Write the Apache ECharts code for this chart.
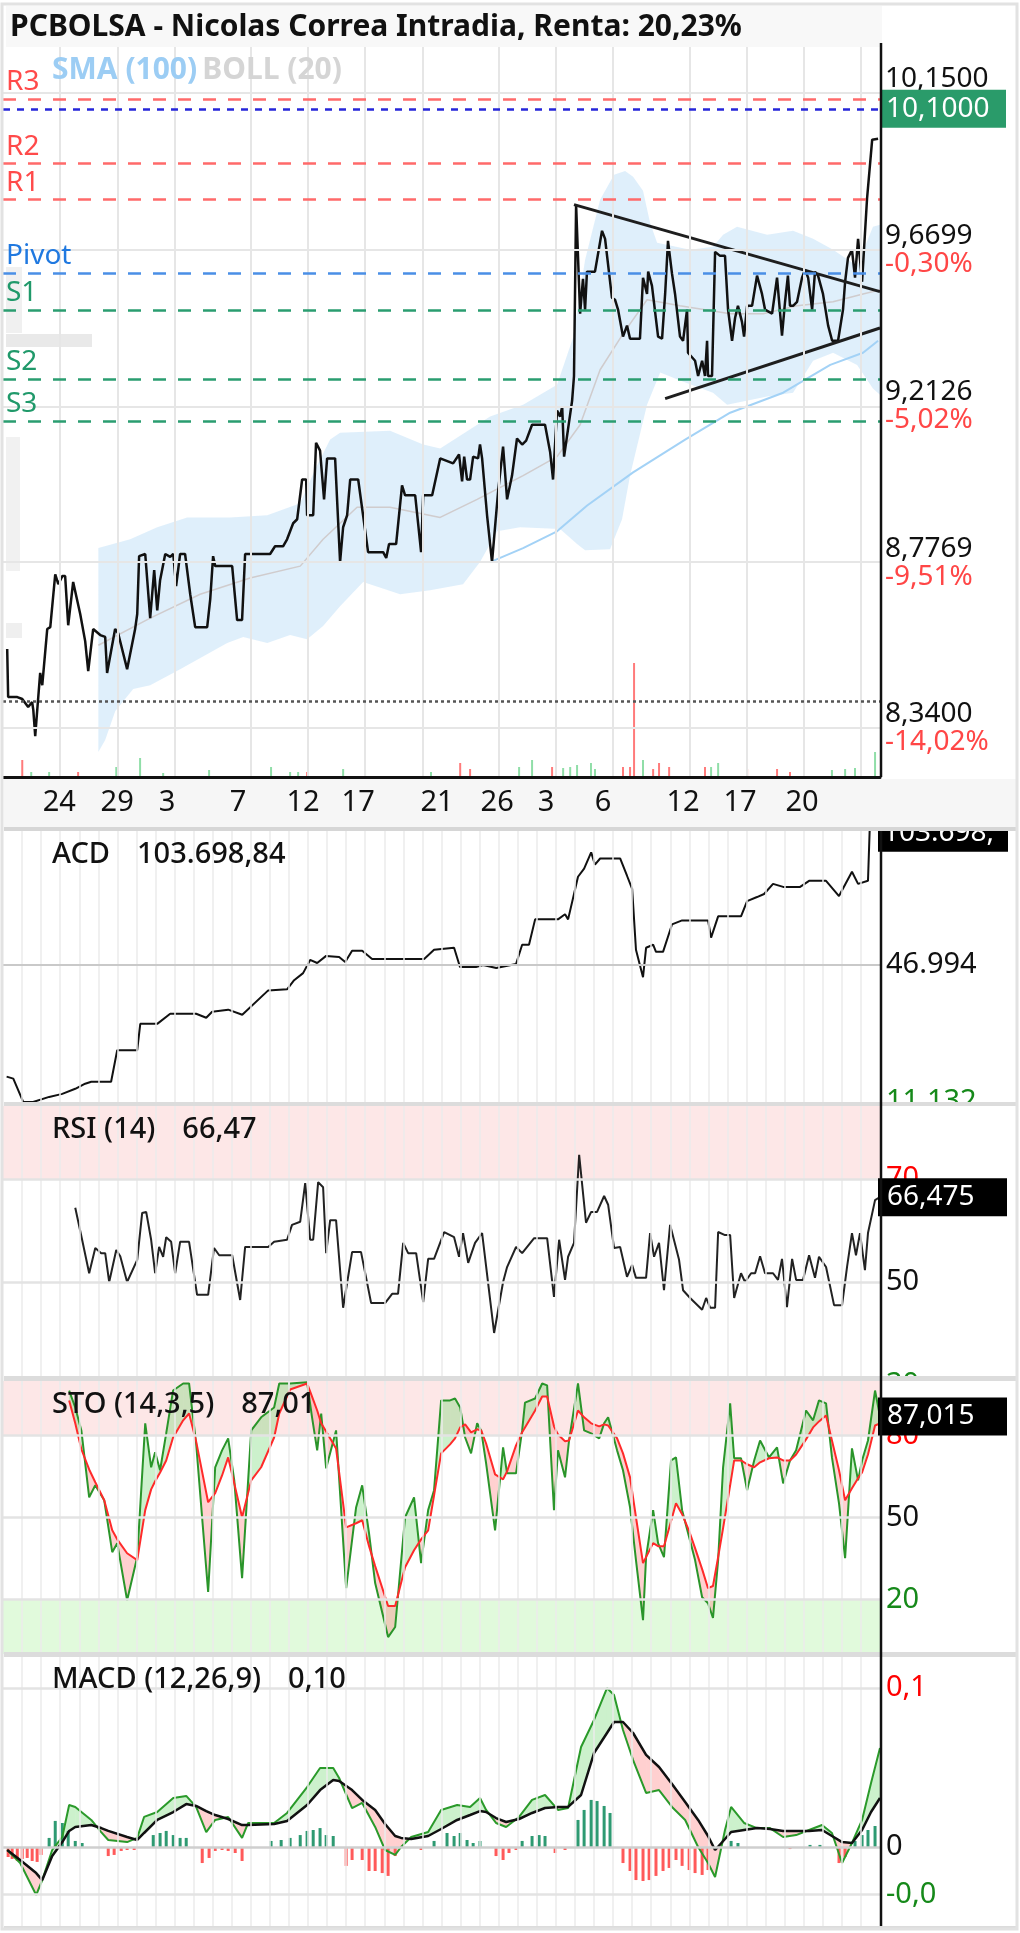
<!DOCTYPE html>
<html>
<head>
<meta charset="utf-8">
<title>PCBOLSA - Nicolas Correa Intradia</title>
<script src="https://cdn.jsdelivr.net/npm/echarts@6/dist/echarts.min.js"></script>
<style>
html, body { margin: 0; padding: 0; background: #fff; }
#chart { width: 1020px; height: 1933px; }
</style>
</head>
<body>
<div id="chart"></div>
<script>
const FONT = '"Noto Sans", "DejaVu Sans", sans-serif';

// ---- precio (x = sesiones, y = euros) ----
const priceLine = [[-0.78,8.546],[-0.73,8.420],[-0.25,8.420],[0.01,8.415],[0.32,8.394],[0.53,8.407],[0.59,8.386],[0.69,8.319],[0.80,8.389],[0.95,8.483],[1.06,8.451],[1.32,8.599],[1.48,8.604],[1.74,8.746],[1.90,8.719],[2.11,8.741],[2.26,8.741],[2.42,8.609],[2.68,8.725],[3.05,8.639],[3.31,8.567],[3.47,8.488],[3.73,8.599],[4.10,8.583],[4.36,8.578],[4.46,8.483],[4.88,8.599],[5.04,8.588],[5.51,8.493],[5.93,8.599],[6.04,8.639],[6.14,8.795],[6.46,8.801],[6.72,8.628],[6.93,8.757],[7.09,8.649],[7.24,8.730],[7.51,8.801],[7.77,8.793],[7.93,8.801],[8.08,8.714],[8.29,8.801],[8.55,8.801],[8.82,8.692],[9.08,8.604],[9.71,8.604],[9.87,8.679],[10.02,8.795],[10.13,8.768],[11.02,8.768],[11.28,8.623],[11.54,8.623],[11.70,8.801],[13.01,8.801],[13.27,8.822],[13.69,8.822],[13.90,8.841],[14.06,8.863],[14.22,8.885],[14.43,8.896],[14.69,9.006],[14.90,9.006],[14.95,8.907],[15.27,8.907],[15.42,9.109],[15.63,9.087],[15.84,8.951],[16.00,9.065],[16.42,9.065],[16.68,8.779],[16.84,8.874],[17.05,8.907],[17.21,9.006],[17.63,9.006],[18.15,8.806],[18.94,8.806],[19.10,8.790],[19.25,8.828],[19.62,8.828],[19.93,8.990],[20.09,8.962],[20.62,8.962],[20.93,8.806],[21.04,8.962],[21.51,8.962],[21.93,9.065],[22.61,9.051],[22.92,9.076],[23.08,9.001],[23.19,9.070],[23.34,9.006],[23.50,9.006],[23.66,9.070],[23.92,9.065],[24.02,9.104],[24.13,9.065],[24.39,8.907],[24.65,8.779],[24.97,8.973],[25.23,9.098],[25.44,8.951],[25.70,9.017],[25.96,9.121],[26.23,9.104],[26.44,9.115],[26.75,9.160],[27.43,9.160],[27.70,9.082],[27.85,9.006],[28.06,9.200],[28.22,9.183],[28.33,9.211],[28.43,9.070],[28.85,9.228],[28.95,9.299],[29.06,9.805],[29.16,9.805],[29.27,9.480],[29.42,9.583],[29.53,9.492],[29.63,9.604],[30.05,9.604],[30.42,9.726],[30.58,9.702],[30.94,9.527],[31.10,9.521],[31.26,9.492],[31.52,9.413],[31.73,9.445],[31.89,9.407],[32.41,9.407],[32.57,9.586],[32.78,9.538],[32.84,9.604],[33.04,9.562],[33.36,9.413],[33.57,9.407],[33.73,9.538],[33.88,9.696],[34.09,9.598],[34.25,9.538],[34.51,9.413],[34.67,9.401],[34.88,9.492],[34.93,9.366],[35.30,9.343],[35.46,9.299],[35.67,9.343],[35.82,9.299],[35.93,9.401],[35.98,9.299],[36.19,9.299],[36.35,9.663],[36.61,9.651],[36.87,9.651],[37.03,9.492],[37.24,9.401],[37.40,9.468],[37.55,9.503],[37.76,9.456],[37.87,9.413],[38.03,9.503],[38.29,9.503],[38.55,9.592],[38.81,9.538],[38.97,9.492],[39.34,9.480],[39.60,9.586],[39.86,9.416],[40.02,9.515],[40.17,9.592],[40.28,9.503],[40.44,9.503],[40.65,9.515],[40.91,9.586],[41.07,9.610],[41.23,9.586],[41.44,9.492],[41.59,9.604],[41.75,9.592],[42.01,9.538],[42.28,9.445],[42.49,9.401],[42.80,9.401],[43.06,9.492],[43.17,9.574],[43.32,9.645],[43.53,9.669],[43.69,9.586],[43.85,9.702],[44.06,9.574],[44.32,9.823],[44.59,10.004],[44.90,10.007]];

const bollUpper = [[4.00,8.817],[5.67,8.841],[7.09,8.874],[8.66,8.901],[10.91,8.901],[12.86,8.907],[14.59,8.940],[15.37,9.034],[16.16,9.118],[16.68,9.137],[19.30,9.143],[21.04,9.104],[21.93,9.093],[24.55,9.183],[26.28,9.217],[28.06,9.274],[28.90,9.410],[29.53,9.639],[30.32,9.820],[31.05,9.896],[31.63,9.908],[32.05,9.890],[32.57,9.847],[32.94,9.750],[33.31,9.690],[35.04,9.669],[36.24,9.678],[36.77,9.714],[37.50,9.738],[39.08,9.714],[40.44,9.726],[41.49,9.702],[42.54,9.669],[43.80,9.621],[44.63,9.738],[45.00,9.744]];
const bollLower = [[4.00,8.278],[4.36,8.309],[4.89,8.384],[5.83,8.441],[6.72,8.451],[8.29,8.493],[10.76,8.562],[11.60,8.578],[12.86,8.562],[14.06,8.583],[14.95,8.572],[15.79,8.607],[16.68,8.660],[17.89,8.725],[19.83,8.692],[21.40,8.703],[23.13,8.719],[24.02,8.779],[24.92,8.863],[26.12,8.874],[28.22,8.869],[29.11,8.828],[29.53,8.811],[30.84,8.814],[31.47,8.896],[31.89,9.017],[32.78,9.217],[33.47,9.309],[34.51,9.286],[36.24,9.251],[36.98,9.217],[39.08,9.240],[40.44,9.251],[41.49,9.343],[42.54,9.366],[43.80,9.331],[44.63,9.263],[45.00,9.245]];
const bollMid = [[4.00,8.556],[6.72,8.628],[9.34,8.692],[11.96,8.736],[14.59,8.768],[15.79,8.841],[17.57,8.929],[19.30,8.929],[21.93,8.901],[23.87,8.951],[26.28,9.017],[28.06,9.070],[29.27,9.160],[30.32,9.317],[31.52,9.421],[32.78,9.521],[34.51,9.503],[37.14,9.480],[38.87,9.480],[40.65,9.503],[42.54,9.515],[44.11,9.538],[45.00,9.550]];
const sma100 = [[24.55,8.779],[26.28,8.817],[28.06,8.863],[29.64,8.934],[32.05,9.026],[34.78,9.118],[37.14,9.194],[39.92,9.251],[42.39,9.331],[44.11,9.366],[44.90,9.401]];
const triUpper = [[28.95,9.805],[45.00,9.545]];
const triLower = [[33.73,9.234],[45.00,9.438]];

const pivotNames = ['R3','R2','R1','Pivot','S1','S2','S3'];
const pivotValues = [10.131, 9.928, 9.820, 9.604, 9.492, 9.291, 9.171];
const lastPrice = 10.10;
const refLevel = 8.407;
const priceTicks = [8.34, 8.7769, 9.2126, 9.6699, 10.15];
const priceTickText = ['8,3400','8,7769','9,2126','9,6699','10,1500'];
const priceTickPct = ['-14,02%','-9,51%','-5,02%','-0,30%',''];

const volUp = [[0.48,500],[1.42,500],[4.94,1000],[6.19,1900],[7.40,400],[9.81,700],[13.06,1000],[14.06,500],[14.48,500],[16.84,800],[17.99,700],[21.45,500],[26.07,1000],[26.75,1700],[28.38,900],[28.75,1000],[29.11,1200],[29.84,1400],[30.05,800],[32.57,1700],[36.14,1000],[36.51,1400],[42.48,700],[43.17,800],[43.69,900],[44.74,2500]];
const volDown = [[0.01,1700],[2.94,500],[14.95,500],[22.98,1400],[23.50,800],[27.80,1000],[31.52,1000],[31.89,1000],[32.10,11400],[33.10,800],[33.41,1400],[33.94,1000],[35.82,1000],[38.03,800],[39.60,800],[40.28,500]];

const dateTicks = [1.95, 4.99, 7.61, 11.33, 14.74, 17.63, 21.77, 24.92, 27.48, 30.47, 34.67, 37.66, 40.91];
const dateText = ['24','29','3','7','12','17','21','26','3','6','12','17','20'];
const weekLines = [2, 5, 8, 12, 15, 18, 21, 25, 28, 31, 35, 38, 41, 44];

// ---- ACD ----
const acdLine = [[-0.81,17778],[-0.46,17247],[0.06,11140],[0.58,11140],[1.42,12466],[2.11,13263],[2.79,14591],[3.31,15919],[3.63,16450],[4.67,16450],[4.99,24684],[6.04,24684],[6.20,31589],[7.09,31589],[7.77,34245],[9.13,34245],[9.66,33183],[9.97,34776],[10.81,35308],[11.55,33980],[12.91,40354],[13.90,40620],[14.27,43010],[14.74,44869],[15.11,48322],[15.48,47525],[15.95,49384],[16.63,49119],[16.95,47791],[17.31,50712],[17.84,50712],[18.36,48588],[21.09,48588],[21.61,50978],[22.66,51509],[22.97,46463],[23.81,46463],[24.18,46994],[24.87,46197],[25.91,47260],[26.23,52306],[26.59,52306],[26.91,58946],[28.11,58946],[28.48,60274],[28.64,58946],[29.16,70101],[29.48,72226],[29.85,76476],[30.05,73288],[30.32,74882],[31.37,74882],[31.73,70367],[32.00,66914],[32.20,50978],[32.57,43807],[32.73,51509],[33.10,52306],[33.25,50447],[33.62,50447],[34.09,57618],[34.62,58680],[35.98,58680],[36.14,54165],[36.51,59743],[37.71,59743],[38.03,63727],[38.55,64789],[38.92,65586],[39.39,68242],[39.92,67445],[40.81,67445],[41.28,69039],[42.17,69039],[42.85,65055],[43.53,71429],[43.85,68242],[44.37,69039],[44.60,103699],[45.00,103699]];
const acdLast = 103698.84;
const acdTicks = [11132, 46994];

// ---- RSI (14) ----
const rsiLine = [[2.79,64.4],[3.15,58.2],[3.52,51.7],[3.84,56.6],[4.15,55.6],[4.36,55.6],[4.57,50.0],[4.94,56.2],[5.15,55.0],[5.51,50.0],[6.04,54.3],[6.30,63.4],[6.51,63.6],[6.77,58.2],[6.98,51.7],[7.19,56.8],[7.40,54.9],[7.56,58.7],[7.82,57.8],[8.03,51.7],[8.29,57.8],[8.76,57.8],[9.18,47.5],[9.76,47.5],[10.07,56.6],[10.34,55.2],[11.02,55.2],[11.44,46.5],[11.70,56.8],[12.91,56.8],[13.22,57.8],[13.90,58.2],[14.16,61.1],[14.59,61.7],[14.85,69.2],[15.11,58.2],[15.27,58.2],[15.53,69.4],[15.79,68.4],[15.95,55.6],[16.16,62.0],[16.47,62.0],[16.84,45.0],[17.31,55.8],[17.78,55.8],[18.31,45.9],[19.04,45.9],[19.41,47.7],[19.72,47.7],[19.99,57.6],[20.25,55.6],[20.67,55.6],[21.04,46.1],[21.30,54.5],[21.61,54.5],[22.14,59.7],[22.66,58.7],[22.92,54.9],[23.13,59.5],[23.40,53.7],[23.76,57.6],[24.13,59.5],[24.76,40.1],[25.23,50.0],[25.44,52.9],[25.91,56.8],[26.23,55.6],[26.86,58.5],[27.54,58.5],[27.90,47.1],[28.17,58.2],[28.48,50.4],[28.64,54.9],[28.95,57.6],[29.22,74.7],[29.58,61.5],[29.85,63.6],[30.16,63.6],[30.53,66.7],[30.74,65.0],[31.05,56.6],[31.37,56.8],[31.73,51.0],[32.00,53.3],[32.20,50.8],[32.73,50.8],[32.94,59.5],[33.15,54.9],[33.41,57.6],[33.67,48.4],[33.99,61.1],[34.46,54.3],[34.67,48.4],[35.04,46.9],[35.67,44.6],[35.88,46.9],[36.09,45.0],[36.35,45.0],[36.51,59.7],[36.87,59.1],[37.14,59.1],[37.35,46.9],[37.71,51.7],[37.92,50.0],[38.24,51.7],[38.45,51.7],[38.71,55.0],[38.97,51.7],[39.39,51.7],[39.65,50.4],[39.86,54.5],[40.12,45.1],[40.39,54.5],[40.60,50.4],[40.96,50.4],[41.28,55.2],[41.59,50.8],[41.80,54.9],[42.17,52.9],[42.59,45.5],[43.01,45.5],[43.27,52.9],[43.53,59.5],[43.74,55.2],[43.95,59.5],[44.21,52.3],[44.37,59.5],[44.74,65.9],[45.00,66.5]];
const rsiLast = 66.475;

// ---- STO (14,3,5) ----
const stoT = [2.47,2.79,3.11,3.52,3.84,4.31,4.73,4.99,5.51,6.04,6.46,6.77,6.98,7.24,7.56,7.92,8.45,8.76,9.13,9.76,10.13,10.49,10.81,11.13,11.54,12.02,12.54,13.22,13.49,14.06,14.95,15.21,15.48,15.69,15.95,16.47,17.00,17.52,17.84,18.20,18.52,19.20,19.57,20.09,20.56,20.93,21.30,21.61,21.98,22.45,22.71,22.98,23.24,23.55,23.87,24.08,24.34,24.81,25.23,25.44,25.91,26.23,26.38,26.91,27.28,27.54,27.90,28.11,28.48,28.69,29.16,29.48,29.85,30.27,30.53,30.74,31.21,31.52,31.89,32.20,32.57,32.73,33.10,33.36,33.67,34.04,34.30,34.62,34.99,35.30,35.67,35.98,36.24,36.51,36.77,37.14,37.35,37.71,38.03,38.40,38.71,39.18,39.60,39.92,40.28,40.60,41.12,41.49,41.80,42.17,42.48,42.85,43.17,43.53,43.85,44.06,44.37,44.74,45.00];
const stoK = [96.5,90.3,81.9,57.4,61.8,56.3,37.3,40.6,19.7,35.5,84.5,68.4,73.9,67.3,80.8,96.5,99.1,99.1,77.1,22.7,68.4,74.6,79.0,63.6,27.8,81.9,86.7,90.3,99.1,99.1,99.5,86.7,74.6,88.1,68.0,81.9,24.1,53.7,61.8,44.2,26.0,6.2,9.9,50.1,57.4,33.3,52.7,60.0,92.9,92.9,93.6,90.3,79.3,73.5,84.5,81.9,69.8,45.3,75.7,66.2,66.2,81.9,92.1,93.6,99.1,98.4,52.7,74.6,64.7,78.2,99.1,81.9,80.8,79.0,84.5,86.7,74.6,67.3,53.7,34.4,12.4,35.5,52.7,40.6,35.5,70.9,72.0,52.7,42.8,34.4,20.8,18.6,13.2,34.4,68.4,91.8,71.7,71.7,60.0,70.9,78.2,72.0,75.7,62.5,70.9,74.6,89.2,85.6,92.9,91.8,72.0,55.2,35.1,75.3,63.6,70.9,78.2,96.5,87.0];
const stoD = [92.9,84.5,75.0,67.6,62.9,56.3,45.3,42.0,36.9,34.4,52.7,60.3,63.3,66.5,70.9,79.3,85.6,88.1,77.9,55.6,58.9,65.4,72.0,62.5,50.1,63.6,68.4,79.3,88.1,96.9,99.1,94.3,89.2,84.5,81.5,75.3,46.4,47.9,49.0,39.5,32.2,17.6,17.6,31.8,38.0,42.0,45.3,58.1,73.5,76.8,79.0,83.0,84.1,81.2,82.3,81.9,77.1,65.8,64.0,66.9,76.4,81.2,83.0,89.2,94.3,94.3,83.4,80.4,77.9,78.2,89.2,86.7,84.5,83.4,84.1,83.7,79.0,73.5,64.7,50.1,33.3,35.5,40.6,39.5,39.5,48.6,55.2,51.2,45.0,38.8,31.1,24.1,24.9,35.5,46.1,61.8,70.9,70.9,69.5,68.4,70.2,71.7,72.0,70.9,70.9,73.1,78.6,83.0,85.2,87.4,78.2,67.3,56.3,60.7,64.4,66.5,73.1,83.7,84.5];
const stoLast = 87.015;

// ---- MACD (12,26,9) ----
const macdT = [-0.78,-0.10,0.74,1.06,1.58,2.11,2.47,2.79,3.63,4.15,4.52,5.51,6.04,6.40,7.09,7.93,8.61,9.13,9.66,10.13,10.81,11.54,11.86,13.22,13.90,14.95,15.63,16.32,16.63,17.31,17.84,18.52,19.04,19.57,19.88,20.41,21.30,21.98,22.82,23.50,24.02,24.34,24.86,25.39,26.07,26.75,27.43,28.11,28.64,29.32,30.00,30.68,31.05,31.52,32.05,32.73,33.41,34.09,34.78,35.46,35.98,36.35,36.87,37.19,37.87,38.55,39.23,39.92,40.60,41.28,41.96,42.48,43.01,43.53,44.06,44.53,45.00];
const macdLine = [-0.0019,-0.0101,-0.0302,-0.0208,-0.0019,0.0063,0.0264,0.0252,0.0170,0.0094,0.0044,0.0031,0.0057,0.0189,0.0220,0.0308,0.0321,0.0252,0.0094,0.0170,0.0189,0.0057,0.0151,0.0151,0.0214,0.0377,0.0497,0.0497,0.0434,0.0245,0.0277,0.0126,-0.0019,-0.0050,0.0000,0.0063,0.0094,0.0233,0.0264,0.0252,0.0308,0.0233,0.0151,0.0126,0.0189,0.0296,0.0327,0.0233,0.0245,0.0629,0.0799,0.1000,0.0956,0.0736,0.0547,0.0340,0.0358,0.0252,0.0170,0.0000,-0.0101,-0.0189,0.0107,0.0252,0.0151,0.0119,0.0119,0.0063,0.0075,0.0107,0.0138,0.0088,-0.0101,0.0025,0.0170,0.0403,0.0623];
const macdSignal = [-0.0019,-0.0082,-0.0164,-0.0208,-0.0057,0.0031,0.0101,0.0126,0.0138,0.0119,0.0101,0.0063,0.0044,0.0088,0.0170,0.0220,0.0270,0.0258,0.0226,0.0201,0.0176,0.0138,0.0138,0.0145,0.0164,0.0264,0.0358,0.0421,0.0415,0.0358,0.0296,0.0233,0.0145,0.0069,0.0057,0.0050,0.0069,0.0113,0.0170,0.0201,0.0226,0.0220,0.0182,0.0157,0.0176,0.0214,0.0245,0.0252,0.0252,0.0327,0.0591,0.0717,0.0786,0.0786,0.0717,0.0579,0.0503,0.0396,0.0283,0.0170,0.0069,-0.0019,0.0050,0.0094,0.0107,0.0119,0.0113,0.0101,0.0101,0.0101,0.0107,0.0069,0.0031,0.0025,0.0107,0.0220,0.0308];
const macdHist = [[-0.73,-0.0063],[-0.52,-0.0075],[-0.25,-0.0088],[0.01,-0.0075],[0.27,-0.0069],[0.53,-0.0088],[0.79,-0.0094],[1.00,-0.0050],[1.42,0.0057],[1.74,0.0164],[2.11,0.0151],[2.42,0.0101],[2.79,0.0038],[3.15,0.0025],[4.52,-0.0057],[4.83,-0.0050],[5.20,-0.0025],[5.51,-0.0019],[5.88,-0.0019],[6.88,0.0075],[7.24,0.0088],[7.56,0.0101],[7.93,0.0075],[8.29,0.0057],[8.61,0.0057],[9.45,-0.0101],[9.81,-0.0069],[10.13,-0.0025],[10.49,-0.0019],[10.81,-0.0025],[11.18,-0.0038],[11.54,-0.0088],[13.06,0.0038],[13.59,0.0044],[14.06,0.0057],[14.59,0.0075],[14.95,0.0101],[15.27,0.0107],[15.63,0.0119],[15.95,0.0075],[16.32,0.0069],[17.00,-0.0119],[17.31,-0.0082],[17.84,-0.0082],[18.20,-0.0151],[18.52,-0.0151],[18.89,-0.0164],[19.20,-0.0182],[19.57,-0.0057],[20.93,-0.0019],[21.61,0.0038],[22.29,0.0088],[22.66,0.0069],[22.98,0.0088],[23.34,0.0044],[23.66,0.0025],[24.02,0.0038],[24.86,-0.0057],[25.23,-0.0082],[25.54,-0.0038],[25.91,-0.0019],[26.23,0.0038],[26.75,0.0069],[27.12,0.0075],[27.43,0.0069],[27.96,-0.0038],[28.48,-0.0019],[29.16,0.0170],[29.48,0.0233],[29.85,0.0296],[30.16,0.0289],[30.53,0.0258],[30.84,0.0214],[31.52,-0.0101],[31.89,-0.0151],[32.20,-0.0208],[32.57,-0.0214],[32.89,-0.0208],[33.25,-0.0182],[33.62,-0.0151],[33.94,-0.0132],[34.30,-0.0082],[34.62,-0.0119],[34.99,-0.0145],[35.30,-0.0164],[35.67,-0.0176],[35.98,-0.0145],[37.19,0.0038],[37.55,0.0025],[38.18,-0.0006],[39.23,-0.0006],[40.28,-0.0013],[41.33,0.0013],[41.85,0.0013],[42.85,-0.0101],[43.17,-0.0063],[43.69,0.0038],[44.06,0.0075],[44.37,0.0107],[44.74,0.0132]];
const macdLast = 0.10;

// ---- helpers ----
const GREEN_TXT = '#16891a';
const RED_TXT = '#ff0000';
function nearest(arr, v) {
    let b = 0;
    for (let i = 1; i < arr.length; i++) {
        if (Math.abs(arr[i] - v) < Math.abs(arr[b] - v)) b = i;
    }
    return b;
}
function thousands(n) {
    return String(Math.round(n)).replace(/\B(?=(\d{3})+(?!\d))/g, '.');
}
function comma(v, d) {
    return v.toFixed(d).replace('.', ',');
}
// truncated (not rounded) value, as the panel headers show it
function cut(v, d) {
    const p = Math.pow(10, d);
    return comma(Math.floor(v * p + 1e-6) / p, d);
}
const dayLines = [];
for (let d = 0; d <= 44; d++) dayLines.push(d);

const chart = echarts.init(document.getElementById('chart'), null, { renderer: 'canvas' });

const grids = [
    { left: 3, right: 140, top: 47, height: 730 },
    { left: 3, right: 140, top: 831, height: 271 },
    { left: 3, right: 140, top: 1106, height: 279 },
    { left: 3, right: 140, top: 1381, height: 273 },
    { left: 3, right: 140, top: 1657, height: 269 }
];

const xAxes = grids.map((g, i) => ({
    type: 'value', gridIndex: i, min: -1, max: 45,
    axisLine: { show: i === 0, lineStyle: { color: '#111', width: 3 } },
    axisTick: { show: false },
    splitLine: { show: false },
    axisLabel: i === 0 ? {
        customValues: dateTicks, margin: 11, color: '#111', fontSize: 29, fontFamily: FONT,
        formatter: v => dateText[nearest(dateTicks, v)]
    } : { show: false },
    z: i === 0 ? 11 : 0
}));

function sideAxis(gridIndex, min, max, ticks, fmt, color) {
    return {
        type: 'value', gridIndex, position: 'right', min, max,
        axisLine: { show: false }, axisTick: { show: false }, splitLine: { show: false },
        axisLabel: { customValues: ticks, margin: 6, fontSize: 29, fontFamily: FONT, formatter: fmt, color }
    };
}

const yAxes = [
    {
        type: 'log', logBase: 10, gridIndex: 0, position: 'right', min: 8.2144, max: 10.295,
        axisLine: { show: false }, axisTick: { show: false }, splitLine: { show: false },
        axisLabel: {
            customValues: priceTicks, margin: 5, fontFamily: FONT,
            formatter: v => {
                const i = nearest(priceTicks, v);
                return '{v|' + priceTickText[i] + '}\n{p|' + (priceTickPct[i] || ' ') + '}';
            },
            rich: {
                v: { fontSize: 28, color: '#111', lineHeight: 28, fontFamily: FONT },
                p: { fontSize: 28, color: '#ff4646', lineHeight: 28, fontFamily: FONT }
            }
        }
    },
    { type: 'value', gridIndex: 0, min: 0, max: 73000, show: false },
    sideAxis(1, 11132, 82080, acdTicks, v => thousands(v), v => (v < 20000 ? GREEN_TXT : '#111')),
    sideAxis(2, 30, 84.17, [30, 50, 70], v => String(Math.round(v)), v => (v > 60 ? RED_TXT : v < 40 ? GREEN_TXT : '#111')),
    sideAxis(3, 0, 100, [20, 50, 80], v => String(Math.round(v)), v => (v > 60 ? RED_TXT : v < 40 ? GREEN_TXT : '#111')),
    sideAxis(4, -0.0497, 0.1195, [-0.03, 0, 0.1], v => (Math.abs(v) < 1e-9 ? '0' : comma(v, 1)), v => (v > 0.001 ? RED_TXT : v < -0.001 ? GREEN_TXT : '#111'))
];

// vertical day lines + horizontal grid lines for a panel
function gridLines(xi, yi, hValues, hStyle) {
    return {
        type: 'line', xAxisIndex: xi, yAxisIndex: yi, data: [], silent: true, z: 1,
        markLine: {
            silent: true, symbol: 'none', animation: false, label: { show: false },
            lineStyle: { color: '#ebebeb', width: 1.5, type: 'solid' },
            data: dayLines.map(d => ({ xAxis: d })).concat(hValues.map((v, i) => ({
                yAxis: v, lineStyle: Object.assign({ color: '#e3e3e3', width: 2.5, type: 'solid' }, hStyle ? hStyle[i] : {})
            })))
        }
    };
}

function bandArea(xi, yi, areas) {
    return {
        type: 'line', xAxisIndex: xi, yAxisIndex: yi, data: [], silent: true, z: 0,
        markArea: {
            silent: true, animation: false,
            data: areas.map(a => [{ yAxis: a[0], itemStyle: { color: a[2] } }, { yAxis: a[1] }])
        }
    };
}

function valueBox(value, text, distance, boxWidth) {
    return {
        yAxis: value,
        lineStyle: { color: 'rgba(0,0,0,0)', width: 0 },
        label: {
            show: true, position: 'end', formatter: text, distance: distance,
            backgroundColor: '#000', color: '#fff', fontSize: 28, fontFamily: FONT,
            width: boxWidth || 120, height: 28, lineHeight: 28, padding: [5, 0, 5, boxWidth ? 5 : 9],
            overflow: 'truncate', ellipsis: ''
        }
    };
}

function crossFill(xi, yi, T, A, B, upColor, downColor) {
    return {
        type: 'custom', xAxisIndex: xi, yAxisIndex: yi, silent: true, clip: true, z: 2,
        data: T.slice(0, -1).map((t, i) => [t, A[i], B[i]]),
        encode: { x: 0, y: [1, 2] },
        renderItem: function (params, api) {
            const i = params.dataIndex;
            const t0 = T[i], t1 = T[i + 1];
            const a0 = A[i], a1 = A[i + 1], b0 = B[i], b1 = B[i + 1];
            const d0 = a0 - b0, d1 = a1 - b1;
            const quad = (ta, aa, ba, tb, ab, bb, col) => ({
                type: 'polygon',
                shape: { points: [api.coord([ta, aa]), api.coord([tb, ab]), api.coord([tb, bb]), api.coord([ta, ba])] },
                style: { fill: col }
            });
            if (d0 * d1 >= 0) {
                return quad(t0, a0, b0, t1, a1, b1, (d0 + d1) >= 0 ? upColor : downColor);
            }
            const f = d0 / (d0 - d1);
            const tc = t0 + f * (t1 - t0);
            const vc = a0 + f * (a1 - a0);
            return {
                type: 'group',
                children: [
                    quad(t0, a0, b0, tc, vc, vc, d0 > 0 ? upColor : downColor),
                    quad(tc, vc, vc, t1, a1, b1, d1 > 0 ? upColor : downColor)
                ]
            };
        }
    };
}

const pivotTextColor = n => (n[0] === 'R' ? '#ff4a4a' : n[0] === 'S' ? '#20996a' : '#2079e0');
const pivotLineColor = n => (n[0] === 'R' ? '#ff6a6a' : n[0] === 'S' ? '#2a9d70' : '#4a8fe6');

const series = [
    // ---------- main panel ----------
    {
        type: 'line', xAxisIndex: 0, yAxisIndex: 0, data: [], silent: true, z: 1,
        markLine: {
            silent: true, symbol: 'none', animation: false, label: { show: false },
            lineStyle: { color: '#e6e6e6', width: 2, type: 'solid' },
            data: priceTicks.map(v => ({ yAxis: v })).concat(weekLines.map(d => ({ xAxis: d })))
        }
    },
    {
        type: 'custom', xAxisIndex: 0, yAxisIndex: 0, silent: true, clip: true, z: 1,
        data: [bollUpper[0]],
        renderItem: (params, api) => ({
            type: 'polygon',
            shape: { points: bollUpper.concat(bollLower.slice().reverse()).map(p => api.coord(p)) },
            style: { fill: 'rgba(170,212,245,0.38)' }
        })
    },
    {
        type: 'line', name: 'BOLL (20)', xAxisIndex: 0, yAxisIndex: 0, data: bollMid, showSymbol: false, symbol: 'none',
        lineStyle: { color: 'rgba(200,185,180,0.65)', width: 1.5 }, silent: true, z: 2
    },
    {
        type: 'line', name: 'SMA (100)', xAxisIndex: 0, yAxisIndex: 0, data: sma100, symbol: 'none',
        lineStyle: { color: '#a3d2f6', width: 2 }, silent: true, z: 2
    },
    {
        type: 'bar', xAxisIndex: 0, yAxisIndex: 1, data: volUp, barWidth: 2, silent: true,
        itemStyle: { color: 'rgba(70,200,110,0.6)' }, z: 2
    },
    {
        type: 'bar', xAxisIndex: 0, yAxisIndex: 1, data: volDown, barWidth: 2, silent: true, barGap: '-100%',
        itemStyle: { color: 'rgba(255,90,90,0.8)' }, z: 2
    },
    {
        type: 'line', xAxisIndex: 0, yAxisIndex: 0, data: [], silent: true, z: 3,
        markLine: {
            silent: true, symbol: 'none', animation: false,
            data: pivotNames.map((n, i) => ({
                yAxis: pivotValues[i],
                lineStyle: { color: pivotLineColor(n), type: [13, 12], width: 2.5 },
                label: {
                    show: true, position: 'insideStartTop', formatter: n, distance: [3, 3],
                    color: pivotTextColor(n), fontSize: 28, fontFamily: FONT
                }
            })).concat([
                {
                    yAxis: lastPrice,
                    lineStyle: { color: '#2626d9', type: [7, 7], width: 2.5 },
                    label: {
                        show: true, position: 'end', formatter: comma(lastPrice, 4), distance: 1,
                        backgroundColor: '#2a9b6a', color: '#fff', fontSize: 28, fontFamily: FONT,
                        width: 114, height: 28, lineHeight: 28, padding: [5, 6, 5, 5]
                    }
                },
                { yAxis: refLevel, lineStyle: { color: '#555', type: [3, 3], width: 2.5 }, label: { show: false } }
            ])
        }
    },
    {
        type: 'line', name: 'Precio', xAxisIndex: 0, yAxisIndex: 0, data: priceLine, symbol: 'none',
        lineStyle: { color: '#111', width: 2.5 }, silent: true, z: 4
    },
    {
        type: 'line', xAxisIndex: 0, yAxisIndex: 0, data: triUpper, symbol: 'none',
        lineStyle: { color: '#1e1e1e', width: 3 }, silent: true, z: 4
    },
    {
        type: 'line', xAxisIndex: 0, yAxisIndex: 0, data: triLower, symbol: 'none',
        lineStyle: { color: '#1e1e1e', width: 3 }, silent: true, z: 4
    },

    // ---------- ACD ----------
    gridLines(1, 2, [46994], [{ color: '#c9c9c9', width: 2 }]),
    {
        type: 'line', name: 'ACD', xAxisIndex: 1, yAxisIndex: 2, data: acdLine, symbol: 'none',
        lineStyle: { color: '#111', width: 2 }, silent: true, z: 3, clip: true,
        markLine: {
            silent: true, symbol: 'none', animation: false,
            // the box sits pinned to the top edge, half hidden under the date strip
            data: [valueBox(Math.min(acdLast, 81600), '103.698,84', -2, 125)]
        }
    },

    // ---------- RSI ----------
    bandArea(2, 3, [[70, 84.17, '#fde7e7']]),
    gridLines(2, 3, [50, 70]),
    {
        type: 'line', name: 'RSI (14)', xAxisIndex: 2, yAxisIndex: 3, data: rsiLine, symbol: 'none',
        lineStyle: { color: '#222', width: 2 }, silent: true, z: 3,
        markLine: { silent: true, symbol: 'none', animation: false, data: [valueBox(rsiLast, comma(rsiLast, 3), -2)] }
    },

    // ---------- STO ----------
    bandArea(3, 4, [[80, 100, '#fde7e7'], [0, 20, '#e1fadc']]),
    gridLines(3, 4, [20, 50, 80]),
    crossFill(3, 4, stoT, stoK, stoD, 'rgba(110,215,110,0.35)', 'rgba(255,120,120,0.35)'),
    {
        type: 'line', name: '%K', xAxisIndex: 3, yAxisIndex: 4, data: stoT.map((t, i) => [t, stoK[i]]), symbol: 'none',
        lineStyle: { color: '#2a952a', width: 2 }, silent: true, z: 3
    },
    {
        type: 'line', name: '%D', xAxisIndex: 3, yAxisIndex: 4, data: stoT.map((t, i) => [t, stoD[i]]), symbol: 'none',
        lineStyle: { color: '#ff2a2a', width: 2 }, silent: true, z: 3,
        markLine: { silent: true, symbol: 'none', animation: false, data: [valueBox(stoLast, comma(stoLast, 3), -2)] }
    },

    // ---------- MACD ----------
    gridLines(4, 5, [-0.03, 0, 0.1], [{}, { color: '#cfcfcf', width: 2.5 }, {}]),
    crossFill(4, 5, macdT, macdLine, macdSignal, 'rgba(110,215,110,0.35)', 'rgba(255,120,120,0.35)'),
    {
        type: 'bar', xAxisIndex: 4, yAxisIndex: 5, data: macdHist, barWidth: 3, silent: true, z: 2,
        itemStyle: { color: p => (p.value[1] >= 0 ? '#2e9a72' : '#ff5a5a') }
    },
    {
        type: 'line', name: 'MACD', xAxisIndex: 4, yAxisIndex: 5, data: macdT.map((t, i) => [t, macdLine[i]]), symbol: 'none',
        lineStyle: { color: '#2a9a2a', width: 2 }, silent: true, z: 3
    },
    {
        type: 'line', name: 'Señal', xAxisIndex: 4, yAxisIndex: 5, data: macdT.map((t, i) => [t, macdSignal[i]]), symbol: 'none',
        lineStyle: { color: '#111', width: 2.5 }, silent: true, z: 3
    }
];

function panelTitle(top, name, value) {
    return {
        left: 52, top: top, padding: 0,
        text: '{n|' + name + '}{v|' + value + '}',
        textStyle: {
            rich: {
                n: { fontSize: 29, fontWeight: 500, color: '#111', fontFamily: FONT, lineHeight: 30, padding: [0, 27, 0, 0] },
                v: { fontSize: 29, fontWeight: 500, color: '#111', fontFamily: FONT, lineHeight: 30 }
            }
        }
    };
}

const option = {
    animation: false,
    backgroundColor: '#fff',
    title: [
        {
            left: 10, top: 12, padding: 0,
            text: 'PCBOLSA - Nicolas Correa Intradia, Renta: 20,23%',
            textStyle: { fontSize: 30, fontWeight: 'bold', color: '#111', fontFamily: FONT, lineHeight: 30 }
        },
        {
            left: 52, top: 55, padding: 0,
            text: '{a|SMA (100)} {b|BOLL (20)}',
            textStyle: {
                rich: {
                    a: { fontSize: 30, color: '#9ccdf4', fontFamily: FONT, lineHeight: 30 },
                    b: { fontSize: 30, color: '#d5d5d5', fontFamily: FONT, lineHeight: 30 }
                }
            }
        },
        panelTitle(840, 'ACD', '103.698,84'),
        panelTitle(1115, 'RSI (14)', cut(rsiLast, 2)),
        panelTitle(1390, 'STO (14,3,5)', cut(stoLast, 2)),
        panelTitle(1665, 'MACD (12,26,9)', cut(macdLast, 2))
    ],
    grid: grids,
    xAxis: xAxes,
    yAxis: yAxes,
    series: series,
    graphic: {
        elements: [
            { type: 'rect', shape: { x: 6, y: 6, width: 876, height: 41 }, style: { fill: '#f8f8f8' }, z: -1, silent: true },
            // faded remnants on the left edge of the price panel
            { type: 'rect', shape: { x: 6, y: 267, width: 16, height: 66 }, style: { fill: '#f0f0f0' }, z: 0, silent: true },
            { type: 'rect', shape: { x: 6, y: 334, width: 86, height: 13 }, style: { fill: '#e9e9e9' }, z: 0, silent: true },
            { type: 'rect', shape: { x: 6, y: 437, width: 14, height: 134 }, style: { fill: '#f1f1f1' }, z: 0, silent: true },
            { type: 'rect', shape: { x: 6, y: 623, width: 16, height: 15 }, style: { fill: '#efefef' }, z: 0, silent: true },
            // date strip
            { type: 'rect', shape: { x: 4, y: 779, width: 1012, height: 48 }, style: { fill: '#f6f6f6' }, z: 10, silent: true },
            { type: 'rect', shape: { x: 4, y: 827, width: 1012, height: 4 }, style: { fill: '#d6d6d6' }, z: 10, silent: true },
            // panel separators
            { type: 'rect', shape: { x: 4, y: 1102, width: 1012, height: 4 }, style: { fill: '#dcdcdc' }, z: 10, silent: true },
            { type: 'rect', shape: { x: 883, y: 1106, width: 133, height: 16 }, style: { fill: '#fff' }, z: 10, silent: true },
            { type: 'rect', shape: { x: 4, y: 1376, width: 1012, height: 5 }, style: { fill: '#dcdcdc' }, z: 10, silent: true },
            { type: 'rect', shape: { x: 883, y: 1381, width: 133, height: 14 }, style: { fill: '#fff' }, z: 10, silent: true },
            { type: 'rect', shape: { x: 4, y: 1652, width: 1012, height: 5 }, style: { fill: '#dcdcdc' }, z: 10, silent: true },
            { type: 'rect', shape: { x: 4, y: 1926, width: 1012, height: 3 }, style: { fill: '#dcdcdc' }, z: 10, silent: true },
            // right axis line
            { type: 'line', shape: { x1: 881, y1: 43, x2: 881, y2: 777 }, style: { stroke: '#111', lineWidth: 2.5 }, z: 12, silent: true },
            { type: 'line', shape: { x1: 881, y1: 831, x2: 881, y2: 1926 }, style: { stroke: '#111', lineWidth: 2.5 }, z: 12, silent: true },
            // outer frame
            { type: 'rect', shape: { x: 2, y: 4, width: 1015, height: 1925 }, style: { fill: 'none', stroke: '#e2e2e2', lineWidth: 3 }, z: 13, silent: true }
        ]
    }
};

chart.setOption(option);
</script>
</body>
</html>
